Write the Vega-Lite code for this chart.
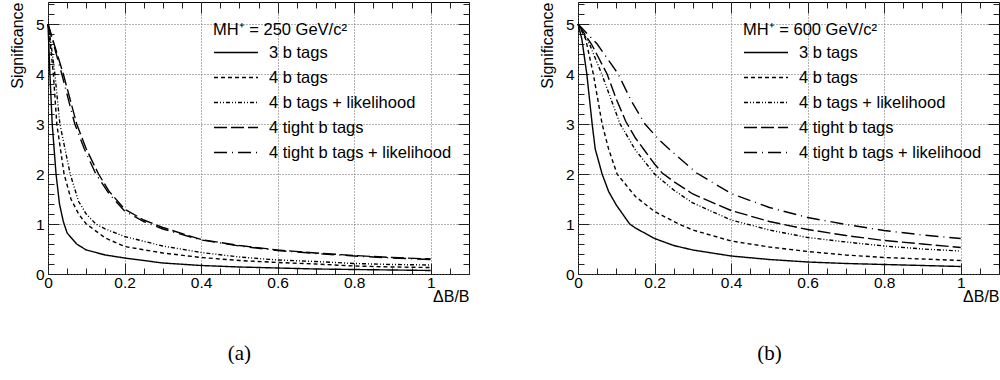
{
  "$schema": "https://vega.github.io/schema/vega-lite/v6.json",
  "background": "white",
  "padding": {"left": 8, "top": 1, "right": 2, "bottom": 0},
  "spacing": 68,
  "resolve": {"scale": {"strokeDash": "independent"}, "legend": {"strokeDash": "independent"}},
  "datasets": {
    "curves": [
      {"panel": "a", "series": "3 b tags", "x": 0, "sig": 5},
      {"panel": "a", "series": "3 b tags", "x": 0.002, "sig": 4.6},
      {"panel": "a", "series": "3 b tags", "x": 0.005, "sig": 4.0},
      {"panel": "a", "series": "3 b tags", "x": 0.011, "sig": 3.0},
      {"panel": "a", "series": "3 b tags", "x": 0.021, "sig": 2.0},
      {"panel": "a", "series": "3 b tags", "x": 0.03, "sig": 1.4},
      {"panel": "a", "series": "3 b tags", "x": 0.04, "sig": 1.05},
      {"panel": "a", "series": "3 b tags", "x": 0.05, "sig": 0.82},
      {"panel": "a", "series": "3 b tags", "x": 0.075, "sig": 0.6},
      {"panel": "a", "series": "3 b tags", "x": 0.1, "sig": 0.48},
      {"panel": "a", "series": "3 b tags", "x": 0.15, "sig": 0.38},
      {"panel": "a", "series": "3 b tags", "x": 0.2, "sig": 0.32},
      {"panel": "a", "series": "3 b tags", "x": 0.3, "sig": 0.22},
      {"panel": "a", "series": "3 b tags", "x": 0.4, "sig": 0.17},
      {"panel": "a", "series": "3 b tags", "x": 0.5, "sig": 0.14},
      {"panel": "a", "series": "3 b tags", "x": 0.6, "sig": 0.12},
      {"panel": "a", "series": "3 b tags", "x": 0.7, "sig": 0.1},
      {"panel": "a", "series": "3 b tags", "x": 0.8, "sig": 0.09},
      {"panel": "a", "series": "3 b tags", "x": 0.9, "sig": 0.08},
      {"panel": "a", "series": "3 b tags", "x": 1.0, "sig": 0.07},

      {"panel": "a", "series": "4 b tags", "x": 0, "sig": 5},
      {"panel": "a", "series": "4 b tags", "x": 0.006, "sig": 4.6},
      {"panel": "a", "series": "4 b tags", "x": 0.014, "sig": 4.0},
      {"panel": "a", "series": "4 b tags", "x": 0.023, "sig": 3.0},
      {"panel": "a", "series": "4 b tags", "x": 0.042, "sig": 2.0},
      {"panel": "a", "series": "4 b tags", "x": 0.06, "sig": 1.5},
      {"panel": "a", "series": "4 b tags", "x": 0.08, "sig": 1.2},
      {"panel": "a", "series": "4 b tags", "x": 0.1, "sig": 1.0},
      {"panel": "a", "series": "4 b tags", "x": 0.15, "sig": 0.72},
      {"panel": "a", "series": "4 b tags", "x": 0.2, "sig": 0.55},
      {"panel": "a", "series": "4 b tags", "x": 0.3, "sig": 0.42},
      {"panel": "a", "series": "4 b tags", "x": 0.4, "sig": 0.33},
      {"panel": "a", "series": "4 b tags", "x": 0.5, "sig": 0.27},
      {"panel": "a", "series": "4 b tags", "x": 0.6, "sig": 0.23},
      {"panel": "a", "series": "4 b tags", "x": 0.7, "sig": 0.2},
      {"panel": "a", "series": "4 b tags", "x": 0.8, "sig": 0.16},
      {"panel": "a", "series": "4 b tags", "x": 0.9, "sig": 0.14},
      {"panel": "a", "series": "4 b tags", "x": 1.0, "sig": 0.13},

      {"panel": "a", "series": "4 b tags + likelihood", "x": 0, "sig": 5},
      {"panel": "a", "series": "4 b tags + likelihood", "x": 0.008, "sig": 4.6},
      {"panel": "a", "series": "4 b tags + likelihood", "x": 0.018, "sig": 4.0},
      {"panel": "a", "series": "4 b tags + likelihood", "x": 0.031, "sig": 3.0},
      {"panel": "a", "series": "4 b tags + likelihood", "x": 0.058, "sig": 2.0},
      {"panel": "a", "series": "4 b tags + likelihood", "x": 0.08, "sig": 1.45},
      {"panel": "a", "series": "4 b tags + likelihood", "x": 0.1, "sig": 1.2},
      {"panel": "a", "series": "4 b tags + likelihood", "x": 0.125, "sig": 1.0},
      {"panel": "a", "series": "4 b tags + likelihood", "x": 0.15, "sig": 0.9},
      {"panel": "a", "series": "4 b tags + likelihood", "x": 0.2, "sig": 0.75},
      {"panel": "a", "series": "4 b tags + likelihood", "x": 0.3, "sig": 0.56},
      {"panel": "a", "series": "4 b tags + likelihood", "x": 0.4, "sig": 0.43},
      {"panel": "a", "series": "4 b tags + likelihood", "x": 0.5, "sig": 0.34},
      {"panel": "a", "series": "4 b tags + likelihood", "x": 0.6, "sig": 0.28},
      {"panel": "a", "series": "4 b tags + likelihood", "x": 0.7, "sig": 0.25},
      {"panel": "a", "series": "4 b tags + likelihood", "x": 0.8, "sig": 0.21},
      {"panel": "a", "series": "4 b tags + likelihood", "x": 0.9, "sig": 0.19},
      {"panel": "a", "series": "4 b tags + likelihood", "x": 1.0, "sig": 0.18},

      {"panel": "a", "series": "4 tight b tags", "x": 0, "sig": 5},
      {"panel": "a", "series": "4 tight b tags", "x": 0.02, "sig": 4.5},
      {"panel": "a", "series": "4 tight b tags", "x": 0.04, "sig": 4.0},
      {"panel": "a", "series": "4 tight b tags", "x": 0.075, "sig": 3.0},
      {"panel": "a", "series": "4 tight b tags", "x": 0.1, "sig": 2.5},
      {"panel": "a", "series": "4 tight b tags", "x": 0.132, "sig": 2.0},
      {"panel": "a", "series": "4 tight b tags", "x": 0.16, "sig": 1.65},
      {"panel": "a", "series": "4 tight b tags", "x": 0.2, "sig": 1.3},
      {"panel": "a", "series": "4 tight b tags", "x": 0.25, "sig": 1.08},
      {"panel": "a", "series": "4 tight b tags", "x": 0.3, "sig": 0.93},
      {"panel": "a", "series": "4 tight b tags", "x": 0.4, "sig": 0.69},
      {"panel": "a", "series": "4 tight b tags", "x": 0.5, "sig": 0.57},
      {"panel": "a", "series": "4 tight b tags", "x": 0.6, "sig": 0.48},
      {"panel": "a", "series": "4 tight b tags", "x": 0.7, "sig": 0.42},
      {"panel": "a", "series": "4 tight b tags", "x": 0.8, "sig": 0.37},
      {"panel": "a", "series": "4 tight b tags", "x": 0.9, "sig": 0.33},
      {"panel": "a", "series": "4 tight b tags", "x": 1.0, "sig": 0.3},

      {"panel": "a", "series": "4 tight b tags + likelihood", "x": 0, "sig": 5},
      {"panel": "a", "series": "4 tight b tags + likelihood", "x": 0.018, "sig": 4.5},
      {"panel": "a", "series": "4 tight b tags + likelihood", "x": 0.036, "sig": 4.0},
      {"panel": "a", "series": "4 tight b tags + likelihood", "x": 0.07, "sig": 3.0},
      {"panel": "a", "series": "4 tight b tags + likelihood", "x": 0.095, "sig": 2.5},
      {"panel": "a", "series": "4 tight b tags + likelihood", "x": 0.125, "sig": 2.0},
      {"panel": "a", "series": "4 tight b tags + likelihood", "x": 0.16, "sig": 1.6},
      {"panel": "a", "series": "4 tight b tags + likelihood", "x": 0.2, "sig": 1.26},
      {"panel": "a", "series": "4 tight b tags + likelihood", "x": 0.25, "sig": 1.05},
      {"panel": "a", "series": "4 tight b tags + likelihood", "x": 0.3, "sig": 0.9},
      {"panel": "a", "series": "4 tight b tags + likelihood", "x": 0.4, "sig": 0.68},
      {"panel": "a", "series": "4 tight b tags + likelihood", "x": 0.5, "sig": 0.56},
      {"panel": "a", "series": "4 tight b tags + likelihood", "x": 0.6, "sig": 0.47},
      {"panel": "a", "series": "4 tight b tags + likelihood", "x": 0.7, "sig": 0.41},
      {"panel": "a", "series": "4 tight b tags + likelihood", "x": 0.8, "sig": 0.36},
      {"panel": "a", "series": "4 tight b tags + likelihood", "x": 0.9, "sig": 0.32},
      {"panel": "a", "series": "4 tight b tags + likelihood", "x": 1.0, "sig": 0.29},

      {"panel": "b", "series": "3 b tags", "x": 0, "sig": 5},
      {"panel": "b", "series": "3 b tags", "x": 0.01, "sig": 4.7},
      {"panel": "b", "series": "3 b tags", "x": 0.023, "sig": 4.0},
      {"panel": "b", "series": "3 b tags", "x": 0.037, "sig": 3.0},
      {"panel": "b", "series": "3 b tags", "x": 0.045, "sig": 2.5},
      {"panel": "b", "series": "3 b tags", "x": 0.063, "sig": 2.0},
      {"panel": "b", "series": "3 b tags", "x": 0.08, "sig": 1.65},
      {"panel": "b", "series": "3 b tags", "x": 0.1, "sig": 1.38},
      {"panel": "b", "series": "3 b tags", "x": 0.135, "sig": 1.0},
      {"panel": "b", "series": "3 b tags", "x": 0.15, "sig": 0.92},
      {"panel": "b", "series": "3 b tags", "x": 0.2, "sig": 0.71},
      {"panel": "b", "series": "3 b tags", "x": 0.25, "sig": 0.57},
      {"panel": "b", "series": "3 b tags", "x": 0.3, "sig": 0.48},
      {"panel": "b", "series": "3 b tags", "x": 0.4, "sig": 0.36},
      {"panel": "b", "series": "3 b tags", "x": 0.5, "sig": 0.29},
      {"panel": "b", "series": "3 b tags", "x": 0.6, "sig": 0.24},
      {"panel": "b", "series": "3 b tags", "x": 0.7, "sig": 0.21},
      {"panel": "b", "series": "3 b tags", "x": 0.8, "sig": 0.19},
      {"panel": "b", "series": "3 b tags", "x": 0.9, "sig": 0.17},
      {"panel": "b", "series": "3 b tags", "x": 1.0, "sig": 0.15},

      {"panel": "b", "series": "4 b tags", "x": 0, "sig": 5},
      {"panel": "b", "series": "4 b tags", "x": 0.02, "sig": 4.7},
      {"panel": "b", "series": "4 b tags", "x": 0.04, "sig": 4.0},
      {"panel": "b", "series": "4 b tags", "x": 0.063, "sig": 3.0},
      {"panel": "b", "series": "4 b tags", "x": 0.08, "sig": 2.5},
      {"panel": "b", "series": "4 b tags", "x": 0.102, "sig": 2.0},
      {"panel": "b", "series": "4 b tags", "x": 0.15, "sig": 1.55},
      {"panel": "b", "series": "4 b tags", "x": 0.2, "sig": 1.25},
      {"panel": "b", "series": "4 b tags", "x": 0.263, "sig": 1.0},
      {"panel": "b", "series": "4 b tags", "x": 0.3, "sig": 0.88},
      {"panel": "b", "series": "4 b tags", "x": 0.4, "sig": 0.66},
      {"panel": "b", "series": "4 b tags", "x": 0.5, "sig": 0.54},
      {"panel": "b", "series": "4 b tags", "x": 0.6, "sig": 0.45},
      {"panel": "b", "series": "4 b tags", "x": 0.7, "sig": 0.38},
      {"panel": "b", "series": "4 b tags", "x": 0.8, "sig": 0.33},
      {"panel": "b", "series": "4 b tags", "x": 0.9, "sig": 0.3},
      {"panel": "b", "series": "4 b tags", "x": 1.0, "sig": 0.27},

      {"panel": "b", "series": "4 b tags + likelihood", "x": 0, "sig": 5},
      {"panel": "b", "series": "4 b tags + likelihood", "x": 0.03, "sig": 4.6},
      {"panel": "b", "series": "4 b tags + likelihood", "x": 0.062, "sig": 4.0},
      {"panel": "b", "series": "4 b tags + likelihood", "x": 0.11, "sig": 3.0},
      {"panel": "b", "series": "4 b tags + likelihood", "x": 0.15, "sig": 2.48},
      {"panel": "b", "series": "4 b tags + likelihood", "x": 0.2, "sig": 2.0},
      {"panel": "b", "series": "4 b tags + likelihood", "x": 0.25, "sig": 1.68},
      {"panel": "b", "series": "4 b tags + likelihood", "x": 0.3, "sig": 1.42},
      {"panel": "b", "series": "4 b tags + likelihood", "x": 0.4, "sig": 1.08},
      {"panel": "b", "series": "4 b tags + likelihood", "x": 0.5, "sig": 0.88},
      {"panel": "b", "series": "4 b tags + likelihood", "x": 0.6, "sig": 0.73},
      {"panel": "b", "series": "4 b tags + likelihood", "x": 0.7, "sig": 0.64},
      {"panel": "b", "series": "4 b tags + likelihood", "x": 0.8, "sig": 0.56},
      {"panel": "b", "series": "4 b tags + likelihood", "x": 0.9, "sig": 0.5},
      {"panel": "b", "series": "4 b tags + likelihood", "x": 1.0, "sig": 0.46},

      {"panel": "b", "series": "4 tight b tags", "x": 0, "sig": 5},
      {"panel": "b", "series": "4 tight b tags", "x": 0.035, "sig": 4.6},
      {"panel": "b", "series": "4 tight b tags", "x": 0.076, "sig": 4.0},
      {"panel": "b", "series": "4 tight b tags", "x": 0.1, "sig": 3.5},
      {"panel": "b", "series": "4 tight b tags", "x": 0.125, "sig": 3.05},
      {"panel": "b", "series": "4 tight b tags", "x": 0.15, "sig": 2.72},
      {"panel": "b", "series": "4 tight b tags", "x": 0.176, "sig": 2.45},
      {"panel": "b", "series": "4 tight b tags", "x": 0.2, "sig": 2.2},
      {"panel": "b", "series": "4 tight b tags", "x": 0.22, "sig": 2.02},
      {"panel": "b", "series": "4 tight b tags", "x": 0.25, "sig": 1.85},
      {"panel": "b", "series": "4 tight b tags", "x": 0.3, "sig": 1.6},
      {"panel": "b", "series": "4 tight b tags", "x": 0.4, "sig": 1.27},
      {"panel": "b", "series": "4 tight b tags", "x": 0.5, "sig": 1.05},
      {"panel": "b", "series": "4 tight b tags", "x": 0.6, "sig": 0.89},
      {"panel": "b", "series": "4 tight b tags", "x": 0.7, "sig": 0.77},
      {"panel": "b", "series": "4 tight b tags", "x": 0.8, "sig": 0.67},
      {"panel": "b", "series": "4 tight b tags", "x": 0.9, "sig": 0.6},
      {"panel": "b", "series": "4 tight b tags", "x": 1.0, "sig": 0.53},

      {"panel": "b", "series": "4 tight b tags + likelihood", "x": 0, "sig": 5},
      {"panel": "b", "series": "4 tight b tags + likelihood", "x": 0.05, "sig": 4.6},
      {"panel": "b", "series": "4 tight b tags + likelihood", "x": 0.105, "sig": 4.0},
      {"panel": "b", "series": "4 tight b tags + likelihood", "x": 0.14, "sig": 3.45},
      {"panel": "b", "series": "4 tight b tags + likelihood", "x": 0.175, "sig": 3.0},
      {"panel": "b", "series": "4 tight b tags + likelihood", "x": 0.21, "sig": 2.7},
      {"panel": "b", "series": "4 tight b tags + likelihood", "x": 0.245, "sig": 2.45},
      {"panel": "b", "series": "4 tight b tags + likelihood", "x": 0.31, "sig": 2.02},
      {"panel": "b", "series": "4 tight b tags + likelihood", "x": 0.4, "sig": 1.61},
      {"panel": "b", "series": "4 tight b tags + likelihood", "x": 0.5, "sig": 1.33},
      {"panel": "b", "series": "4 tight b tags + likelihood", "x": 0.6, "sig": 1.13},
      {"panel": "b", "series": "4 tight b tags + likelihood", "x": 0.7, "sig": 0.99},
      {"panel": "b", "series": "4 tight b tags + likelihood", "x": 0.8, "sig": 0.87},
      {"panel": "b", "series": "4 tight b tags + likelihood", "x": 0.9, "sig": 0.78},
      {"panel": "b", "series": "4 tight b tags + likelihood", "x": 1.0, "sig": 0.71}
    ]
  },
  "data": {"name": "curves"},
  "hconcat": [
    {
      "width": 421,
      "height": 272,
      "transform": [{"filter": "datum.panel == 'a'"}],
      "title": {"text": "(a)", "orient": "bottom", "frame": "bounds", "anchor": "middle", "font": "Liberation Serif", "fontSize": 21, "fontWeight": "normal", "color": "black", "offset": 38},
      "layer": [
        {
          "mark": {"type": "line", "color": "black", "strokeWidth": 1.4},
          "encoding": {
            "x": {"field": "x", "type": "quantitative", "scale": {"domain": [0, 1.1], "nice": false, "zero": false},
              "axis": {"orient": "bottom", "title": "ΔB/B", "titleAnchor": "end", "titleFontSize": 16, "titlePadding": -2,
                "values": [0, 0.05, 0.1, 0.15, 0.2, 0.25, 0.3, 0.35, 0.4, 0.45, 0.5, 0.55, 0.6, 0.65, 0.7, 0.75, 0.8, 0.85, 0.9, 0.95, 1.0, 1.05, 1.1],
                "labelExpr": "abs(datum.value*5-round(datum.value*5))<0.001 ? format(datum.value, '~g') : ''",
                "labelFontSize": {"condition": {"test": "abs(datum.value*5-round(datum.value*5))<0.001", "value": 15.5}, "value": 0},
                "labelFlush": false, "labelOverlap": false, "labelPadding": 12,
                "domain": false, "tickColor": "#222", "tickWidth": 1,
                "tickSize": {"condition": {"test": "abs(datum.value*5-round(datum.value*5))<0.001", "value": -11}, "value": -6},
                "grid": true, "gridColor": "#666", "gridDash": [1, 2], "gridWidth": 1,
                "gridOpacity": {"condition": {"test": "abs(datum.value*5-round(datum.value*5))<0.001", "value": 1}, "value": 0}}},
            "y": {"field": "sig", "type": "quantitative", "scale": {"domain": [0, 5.44], "nice": false},
              "axis": {"orient": "left", "title": "Significance", "titleAnchor": "end", "titleFontSize": 16, "titlePadding": 10,
                "values": [0, 0.2, 0.4, 0.6, 0.8, 1, 1.2, 1.4, 1.6, 1.8, 2, 2.2, 2.4, 2.6, 2.8, 3, 3.2, 3.4, 3.6, 3.8, 4, 4.2, 4.4, 4.6, 4.8, 5, 5.2, 5.4],
                "labelExpr": "abs(datum.value-round(datum.value))<0.001 ? '' + round(datum.value) : ''",
                "labelFontSize": {"condition": {"test": "abs(datum.value-round(datum.value))<0.001", "value": 15.5}, "value": 0},
                "labelFlush": false, "labelOverlap": false, "labelPadding": 15,
                "domain": false, "tickColor": "#222", "tickWidth": 1,
                "tickSize": {"condition": {"test": "abs(datum.value-round(datum.value))<0.001", "value": -11}, "value": -6},
                "grid": true, "gridColor": "#666", "gridDash": [1, 2], "gridWidth": 1,
                "gridOpacity": {"condition": {"test": "abs(datum.value-round(datum.value))<0.001", "value": 1}, "value": 0}}},
            "strokeDash": {"field": "series", "type": "nominal",
              "scale": {"domain": ["3 b tags", "4 b tags", "4 b tags + likelihood", "4 tight b tags", "4 tight b tags + likelihood"],
                "range": [[1, 0], [4, 3], [4, 2, 1, 2, 1, 2], [13, 4], [13, 5, 1, 5]]},
              "legend": {"orient": "none", "legendX": 165, "legendY": 20, "title": "MH⁺ = 250 GeV/c²",
                "titleFontSize": 16.5, "titleFontWeight": "normal", "titleColor": "black", "titlePadding": 6, "titleLimit": 400,
                "labelFontSize": 16.5, "labelColor": "black", "labelOffset": 10, "labelLimit": 400, "symbolType": "stroke", "symbolSize": 1936,
                "symbolStrokeWidth": 1.4, "symbolStrokeColor": "black", "rowPadding": 8, "clipHeight": 16}}
          }
        },
        {
          "mark": {"type": "point", "opacity": 0},
          "encoding": {
            "x": {"field": "x", "type": "quantitative",
              "axis": {"orient": "top", "title": null, "labels": false, "grid": false, "domain": false,
                "values": [0, 0.05, 0.1, 0.15, 0.2, 0.25, 0.3, 0.35, 0.4, 0.45, 0.5, 0.55, 0.6, 0.65, 0.7, 0.75, 0.8, 0.85, 0.9, 0.95, 1.0, 1.05, 1.1],
                "tickColor": "#222",
                "tickSize": {"condition": {"test": "abs(datum.value*5-round(datum.value*5))<0.001", "value": -11}, "value": -6}}},
            "y": {"field": "sig", "type": "quantitative",
              "axis": {"orient": "right", "title": null, "labels": false, "grid": false, "domain": false,
                "values": [0, 0.2, 0.4, 0.6, 0.8, 1, 1.2, 1.4, 1.6, 1.8, 2, 2.2, 2.4, 2.6, 2.8, 3, 3.2, 3.4, 3.6, 3.8, 4, 4.2, 4.4, 4.6, 4.8, 5, 5.2, 5.4],
                "tickColor": "#222",
                "tickSize": {"condition": {"test": "abs(datum.value-round(datum.value))<0.001", "value": -11}, "value": -6}}}
          }
        }
      ],
      "resolve": {"axis": {"x": "independent", "y": "independent"}}
    },
    {
      "width": 421,
      "height": 272,
      "transform": [{"filter": "datum.panel == 'b'"}],
      "title": {"text": "(b)", "orient": "bottom", "frame": "bounds", "anchor": "middle", "font": "Liberation Serif", "fontSize": 21, "fontWeight": "normal", "color": "black", "offset": 38},
      "layer": [
        {
          "mark": {"type": "line", "color": "black", "strokeWidth": 1.4},
          "encoding": {
            "x": {"field": "x", "type": "quantitative", "scale": {"domain": [0, 1.1], "nice": false, "zero": false},
              "axis": {"orient": "bottom", "title": "ΔB/B", "titleAnchor": "end", "titleFontSize": 16, "titlePadding": -2,
                "values": [0, 0.05, 0.1, 0.15, 0.2, 0.25, 0.3, 0.35, 0.4, 0.45, 0.5, 0.55, 0.6, 0.65, 0.7, 0.75, 0.8, 0.85, 0.9, 0.95, 1.0, 1.05, 1.1],
                "labelExpr": "abs(datum.value*5-round(datum.value*5))<0.001 ? format(datum.value, '~g') : ''",
                "labelFontSize": {"condition": {"test": "abs(datum.value*5-round(datum.value*5))<0.001", "value": 15.5}, "value": 0},
                "labelFlush": false, "labelOverlap": false, "labelPadding": 12,
                "domain": false, "tickColor": "#222", "tickWidth": 1,
                "tickSize": {"condition": {"test": "abs(datum.value*5-round(datum.value*5))<0.001", "value": -11}, "value": -6},
                "grid": true, "gridColor": "#666", "gridDash": [1, 2], "gridWidth": 1,
                "gridOpacity": {"condition": {"test": "abs(datum.value*5-round(datum.value*5))<0.001", "value": 1}, "value": 0}}},
            "y": {"field": "sig", "type": "quantitative", "scale": {"domain": [0, 5.44], "nice": false},
              "axis": {"orient": "left", "title": "Significance", "titleAnchor": "end", "titleFontSize": 16, "titlePadding": 10,
                "values": [0, 0.2, 0.4, 0.6, 0.8, 1, 1.2, 1.4, 1.6, 1.8, 2, 2.2, 2.4, 2.6, 2.8, 3, 3.2, 3.4, 3.6, 3.8, 4, 4.2, 4.4, 4.6, 4.8, 5, 5.2, 5.4],
                "labelExpr": "abs(datum.value-round(datum.value))<0.001 ? '' + round(datum.value) : ''",
                "labelFontSize": {"condition": {"test": "abs(datum.value-round(datum.value))<0.001", "value": 15.5}, "value": 0},
                "labelFlush": false, "labelOverlap": false, "labelPadding": 15,
                "domain": false, "tickColor": "#222", "tickWidth": 1,
                "tickSize": {"condition": {"test": "abs(datum.value-round(datum.value))<0.001", "value": -11}, "value": -6},
                "grid": true, "gridColor": "#666", "gridDash": [1, 2], "gridWidth": 1,
                "gridOpacity": {"condition": {"test": "abs(datum.value-round(datum.value))<0.001", "value": 1}, "value": 0}}},
            "strokeDash": {"field": "series", "type": "nominal",
              "scale": {"domain": ["3 b tags", "4 b tags", "4 b tags + likelihood", "4 tight b tags", "4 tight b tags + likelihood"],
                "range": [[1, 0], [4, 3], [4, 2, 1, 2, 1, 2], [13, 4], [13, 5, 1, 5]]},
              "legend": {"orient": "none", "legendX": 165, "legendY": 20, "title": "MH⁺ = 600 GeV/c²",
                "titleFontSize": 16.5, "titleFontWeight": "normal", "titleColor": "black", "titlePadding": 6, "titleLimit": 400,
                "labelFontSize": 16.5, "labelColor": "black", "labelOffset": 10, "labelLimit": 400, "symbolType": "stroke", "symbolSize": 1936,
                "symbolStrokeWidth": 1.4, "symbolStrokeColor": "black", "rowPadding": 8, "clipHeight": 16}}
          }
        },
        {
          "mark": {"type": "point", "opacity": 0},
          "encoding": {
            "x": {"field": "x", "type": "quantitative",
              "axis": {"orient": "top", "title": null, "labels": false, "grid": false, "domain": false,
                "values": [0, 0.05, 0.1, 0.15, 0.2, 0.25, 0.3, 0.35, 0.4, 0.45, 0.5, 0.55, 0.6, 0.65, 0.7, 0.75, 0.8, 0.85, 0.9, 0.95, 1.0, 1.05, 1.1],
                "tickColor": "#222",
                "tickSize": {"condition": {"test": "abs(datum.value*5-round(datum.value*5))<0.001", "value": -11}, "value": -6}}},
            "y": {"field": "sig", "type": "quantitative",
              "axis": {"orient": "right", "title": null, "labels": false, "grid": false, "domain": false,
                "values": [0, 0.2, 0.4, 0.6, 0.8, 1, 1.2, 1.4, 1.6, 1.8, 2, 2.2, 2.4, 2.6, 2.8, 3, 3.2, 3.4, 3.6, 3.8, 4, 4.2, 4.4, 4.6, 4.8, 5, 5.2, 5.4],
                "tickColor": "#222",
                "tickSize": {"condition": {"test": "abs(datum.value-round(datum.value))<0.001", "value": -11}, "value": -6}}}
          }
        }
      ],
      "resolve": {"axis": {"x": "independent", "y": "independent"}}
    }
  ],
  "config": {
    "font": "Liberation Sans",
    "view": {"stroke": "black", "strokeWidth": 1},
    "axis": {"labelFont": "Liberation Sans", "titleFont": "Liberation Sans", "labelColor": "black", "titleColor": "black", "titleFontWeight": "normal"},
    "legend": {"labelFont": "Liberation Sans", "titleFont": "Liberation Sans"}
  }
}
